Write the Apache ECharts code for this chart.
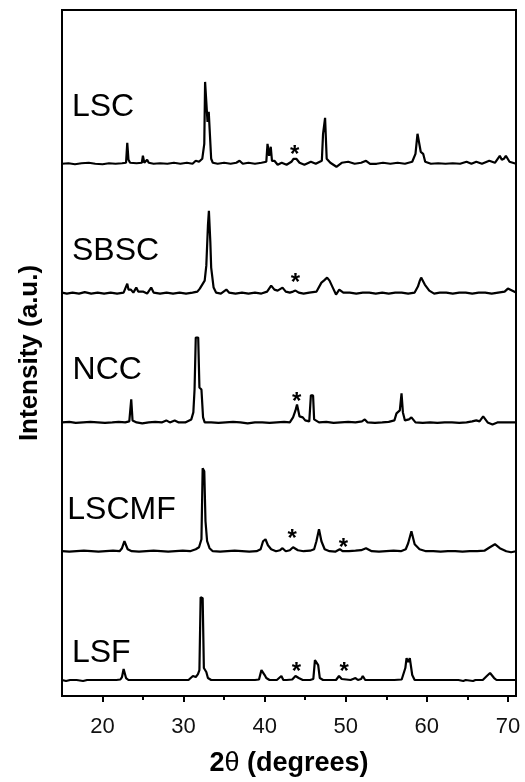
<!DOCTYPE html>
<html>
<head>
<meta charset="utf-8">
<script src="https://cdn.jsdelivr.net/npm/echarts@6/dist/echarts.min.js"></script>
<style>
  html, body { margin: 0; padding: 0; background: #fff; }
  #main { width: 525px; height: 782px; }
</style>
</head>
<body>
<div id="main"></div>
<script>
// sample names, top to bottom
const samples = ["LSC", "SBSC", "NCC", "LSCMF", "LSF"];
// vertical offset of each pattern (a.u.)
const offsets = [533, 404, 274, 145, 16];

// [2theta, intensity above baseline]
const lsc = [
  [15, 0], [15.8, 0.5], [16.6, -0.5], [17.4, 0.5], [18.3, 1], [19.1, 0], [20, -0.5], [20.8, 0.5],
  [21.6, 0], [22.4, 0.5], [22.9, 1], [23.05, 21], [23.2, 4], [23.4, 1], [24.2, 0.5], [24.85, 1],
  [24.98, 8], [25.15, 1], [25.5, 4], [25.7, 1], [26.3, 0], [27.1, 0.5], [28, 0], [28.8, 1],
  [29.6, 0], [30.4, 1], [31.1, 0], [31.5, 3], [31.9, 2], [32.3, 5], [32.55, 20], [32.65, 82],
  [32.85, 82], [32.95, 42], [33.1, 52], [33.25, 52], [33.4, 5], [33.6, 1], [34.2, 0], [35, 1],
  [35.8, 0], [36.5, 1], [36.9, 3], [37.3, 0], [38, 1], [38.8, 0], [39.6, 1], [40.2, 2],
  [40.35, 20], [40.55, 8], [40.75, 17], [40.9, 3], [41.2, 3], [41.6, -1], [42.1, 1], [42.7, -1],
  [43.3, 2], [43.55, 5], [43.9, 5], [44.3, 1], [44.9, -1], [45.7, 2], [46.3, 0], [47.05, 3],
  [47.2, 30], [47.45, 46], [47.65, 5], [48.1, 1], [48.85, -3], [49.5, 1], [50.3, 2], [51.1, 0],
  [51.9, 1], [52.5, 3], [53, 0], [53.8, 0], [54.6, 1], [55.5, 0], [56.4, 1], [57.3, 0],
  [58.2, 2], [58.6, 10], [58.85, 30], [59.05, 28], [59.25, 12], [59.55, 10], [59.8, 2], [60.5, 0],
  [61.4, 0.5], [62.3, 0], [63.2, 0.5], [64.1, 0], [64.9, 2], [65.5, 0], [66.1, 2], [66.8, 0],
  [67.7, 3], [68.4, 1], [69, 8], [69.25, 4], [69.5, 5], [69.75, 8], [70.2, 2], [71, 0]
];
const sbsc = [
  [15, 0], [15.6, -1], [16.3, 0], [17.1, -1], [17.8, 0.5], [18.6, -1], [19.4, 0], [20.2, -1],
  [21, 0], [21.8, -1], [22.6, 0], [23.05, 9], [23.2, 3], [23.5, 3], [23.8, 0], [24.16, 5],
  [24.4, 1], [24.98, 1], [25.5, -1], [26, 5], [26.3, 0], [27.1, -1], [27.9, 0], [28.7, -1],
  [29.5, 0], [30.3, -1], [31.1, 0], [31.7, 1], [32, 4], [32.6, 12], [32.8, 27], [33, 67],
  [33.12, 82], [33.3, 50], [33.4, 25], [33.7, 5], [34, 0], [34.6, -1], [35.27, 3], [35.6, 0],
  [36.4, -1], [37.2, 0], [38, -1], [38.8, 0], [39.6, -1], [40.3, 1], [40.8, 7], [41.2, 3],
  [41.6, 2], [42.2, 5], [42.6, 1], [43.1, 0], [43.5, 1], [43.8, 2], [44.2, 0], [44.8, -1],
  [45.5, 0], [46.4, 1], [47, 10], [47.3, 12], [47.7, 15], [48, 12], [48.4, 5], [48.8, -2],
  [49.2, 3], [49.7, 0], [50.5, 0], [51.3, -1], [52.1, 0], [52.9, 0], [53.7, -1], [54.5, 0],
  [55.3, -1], [56.1, 0], [56.9, 0], [57.7, -1], [58.5, 0], [58.9, 6], [59.14, 12], [59.3, 15],
  [59.75, 8], [60.3, 2], [60.9, -1], [61.6, 0], [62.4, 0], [63.2, -1], [64, 0], [64.8, 0],
  [65.6, -1], [66.4, 0], [67.2, 0], [68, -1], [68.8, 0], [69.6, 1], [70, 4], [70.5, 2], [71, 0]
];
const ncc = [
  [15, 0], [15.9, 0.5], [16.7, -0.5], [17.6, 0], [18.5, 0.5], [19.4, 0], [20.3, -0.5], [21.2, 0],
  [22, 0.5], [22.8, 0], [23.3, 1], [23.54, 23], [23.7, 2], [24.2, 0], [24.9, -1], [25.7, 0],
  [26.5, 0.5], [27.3, 0], [27.86, 2], [28.3, 0], [28.9, 2], [29.4, 0], [30.2, 0], [30.95, 3],
  [31.2, 10], [31.35, 33], [31.5, 85], [31.8, 85], [31.95, 35], [32.2, 33], [32.4, 5], [32.6, 0],
  [33.4, 0], [34.3, -0.5], [35.2, 0], [36.1, 0.5], [37, 0], [37.9, -1], [38.8, 0], [39.7, 0],
  [40.6, -0.5], [41.5, 0], [42.4, 0.5], [43.1, 0], [43.5, 5], [43.8, 12], [43.99, 18], [44.3, 6],
  [44.7, 5], [45, 2], [45.5, 1], [45.7, 27], [45.97, 27], [46.1, 3], [46.7, 0], [47.6, 0.5],
  [48.5, -0.5], [49.4, 0], [50.3, 0.5], [51.2, 0], [52, 1], [52.35, 3], [52.7, 0], [53.6, -0.5],
  [54.5, 0], [55.3, 0.5], [56, 2], [56.26, 9], [56.67, 12], [56.88, 29], [57.05, 10], [57.3, 2],
  [57.8, 3], [58.1, 5], [58.6, 0], [59.5, -0.5], [60.4, 0], [61.3, -0.5], [62.2, 0], [63.1, 0],
  [64, -0.5], [64.9, 0], [65.6, 1], [66.1, 2], [66.5, 1], [66.95, 6], [67.5, 0], [68.1, -2],
  [68.7, 0], [69.6, 0], [70.5, 0], [71, 0]
];
const lscmf = [
  [15, 0], [15.9, -0.5], [16.8, 0], [17.7, 0.5], [18.6, 0], [19.5, -0.5], [20.4, 0], [21.3, 0.5],
  [22.1, 0], [22.4, 3], [22.7, 10], [23.1, 2], [23.6, 0], [24.5, -0.5], [25.4, 0], [26.3, 0.5],
  [27.2, 0], [28.1, -0.5], [29, 0], [29.9, 0.5], [30.8, 0], [31.5, 2], [31.9, 4], [32.2, 12],
  [32.35, 83], [32.55, 80], [32.7, 30], [32.9, 10], [33.2, 3], [33.6, 0], [34.5, -0.5], [35.4, 0],
  [36.3, 0.5], [37.2, 0], [38.1, -0.5], [39, 0], [39.5, 2], [39.8, 10], [40.1, 12], [40.4, 6],
  [40.8, 2], [41.4, 0], [41.9, 1], [42.2, 3], [42.6, 0], [43.1, 1], [43.5, 4], [44.1, 1],
  [44.8, 0], [45.6, 0.5], [46.1, 2], [46.38, 10], [46.7, 22], [47, 10], [47.4, 2], [48, 0],
  [48.7, -0.5], [49.26, 2], [49.6, 0], [50.4, 0], [51.2, 0.5], [51.9, 1], [52.5, 3], [53.2, 0],
  [54.1, -0.5], [55, 0], [55.9, 0.5], [56.8, 0], [57.4, 2], [57.7, 8], [58.1, 20], [58.5, 7],
  [59.1, 2], [59.9, 0], [60.8, 0], [61.7, -0.5], [62.6, 0], [63.5, 0], [64.4, -0.5], [65.3, 0],
  [66.2, 0], [67.1, 0.5], [67.78, 4], [68.4, 7], [69, 3], [69.8, 0], [70.4, -1], [71, 0]
];
const lsf = [
  [15, 0], [15.5, -1], [16, 0], [16.8, 0], [17.6, -1], [18.1, 0], [19, 0], [19.9, 0],
  [20.8, 0], [21.7, 0], [22.2, 0.5], [22.4, 3], [22.6, 11], [22.9, 2], [23.2, 0], [24.1, 0],
  [24.8, 0], [25, 2], [25.2, 0], [26.1, 0], [27, 0], [27.9, 0], [28.8, 0], [29.7, 0],
  [30.6, 0], [31.15, 4], [31.5, 3], [31.77, 6], [31.95, 10], [32.1, 83], [32.35, 82], [32.5, 12],
  [32.8, 8], [33, 2], [33.4, 0], [34.3, 0], [35.2, 0], [36.1, 0], [37, 0], [37.9, 0],
  [38.8, 0], [39.3, 0.5], [39.6, 10], [39.8, 12], [40, 5], [40.2, 2], [40.6, 0], [41.5, 0],
  [42.06, 4], [42.3, 0], [42.7, 0], [43.4, 0.5], [43.8, 4], [44.2, 2], [44.7, 0], [45.6, 0],
  [46, 1], [46.2, 20], [46.4, 21], [46.6, 15], [46.8, 2], [47.2, 0], [48.1, 0], [48.8, 0],
  [49.17, 4], [49.5, 1], [49.7, 0], [50.6, 0], [51.2, 2], [51.5, 0], [51.9, 1], [52.1, 4],
  [52.4, 0], [53.3, 0], [54.2, 0], [55.1, 0], [56, 0], [56.9, 0.5], [57.35, 12], [57.5, 22],
  [57.7, 18], [57.9, 22], [58.2, 5], [58.5, 0], [59.4, 0], [60.3, 0], [61.2, 0], [62.1, 0],
  [63, 0], [63.9, 0], [64.5, -1], [64.8, 0], [65.7, -1], [66, 0], [66.9, 0], [67.4, 4],
  [67.8, 7], [68.3, 2], [68.6, 0], [69.5, 0], [70.4, 0], [71, 0]
];
const traces = [lsc, sbsc, ncc, lscmf, lsf];

// impurity markers "*": [sample index, 2theta, height above baseline]
const stars = [
  [0, 43.7, 14], [1, 43.8, 15], [2, 43.95, 26],
  [3, 43.4, 18], [3, 49.7, 9], [4, 43.9, 14], [4, 49.8, 14]
];

const majorTicks = [20, 30, 40, 50, 60, 70];
const minorTicks = [25, 35, 45, 55, 65];

// where the sample names sit (2theta, a.u.)
const namePos = [[16.23, 590], [16.23, 445], [16.3, 326], [15.65, 186], [16.23, 43]];

const chart = echarts.init(document.getElementById("main"), null, { renderer: "canvas" });
const font = "Liberation Sans, Arial, Helvetica, sans-serif";

const series = traces.map(function (t, i) {
  return {
    type: "line",
    name: samples[i],
    showSymbol: false,
    silent: true,
    lineStyle: { color: "#000", width: 2.2 },
    data: t.map(function (p) { return [p[0], p[1] + offsets[i]]; })
  };
});

series.push({
  type: "scatter",
  symbolSize: 0,
  silent: true,
  itemStyle: { opacity: 1 },
  data: namePos.map(function (p, i) { return { value: p, name: samples[i] }; }),
  label: {
    show: true,
    position: "right",
    distance: 0,
    formatter: function (d) { return d.name; },
    fontSize: 32,
    fontFamily: font,
    color: "#000"
  }
});

series.push({
  type: "scatter",
  symbolSize: 0,
  silent: true,
  itemStyle: { opacity: 1 },
  data: stars.map(function (s) { return [s[1], offsets[s[0]] + s[2]]; }),
  label: {
    show: true,
    position: "inside",
    formatter: "*",
    fontSize: 24,
    fontWeight: "bold",
    fontFamily: font,
    color: "#000",
    offset: [0, 6]
  }
});

chart.setOption({
  animation: false,
  backgroundColor: "#fff",
  grid: { left: 62, right: 9, top: 10, bottom: 85, show: true, borderColor: "#000", borderWidth: 2 },
  xAxis: [
    {
      type: "value",
      min: 15,
      max: 71,
      name: "2{t|θ} (degrees)",
      nameLocation: "middle",
      nameGap: 54,
      nameTextStyle: {
        fontSize: 27, fontWeight: "bold", fontFamily: font, color: "#000",
        rich: { t: { fontSize: 27, fontWeight: "normal", fontFamily: font, color: "#000" } }
      },
      axisLine: { lineStyle: { color: "#000", width: 2 } },
      axisTick: { customValues: majorTicks, length: 6, lineStyle: { color: "#000", width: 2 } },
      axisLabel: { customValues: majorTicks, fontSize: 22, fontFamily: font, color: "#111", margin: 20 },
      splitLine: { show: false }
    },
    {
      type: "value",
      min: 15,
      max: 71,
      position: "bottom",
      axisLine: { show: false },
      axisTick: { customValues: minorTicks, length: 4, lineStyle: { color: "#000", width: 2 } },
      axisLabel: { show: false },
      splitLine: { show: false }
    }
  ],
  yAxis: {
    type: "value",
    min: 0,
    max: 687,
    name: "Intensity (a.u.)",
    nameLocation: "middle",
    nameGap: 19,
    nameTextStyle: { fontSize: 26, fontWeight: "bold", fontFamily: font, color: "#000" },
    axisLine: { show: false },
    axisTick: { show: false },
    axisLabel: { show: false },
    splitLine: { show: false }
  },
  series: series
});
</script>
</body>
</html>
